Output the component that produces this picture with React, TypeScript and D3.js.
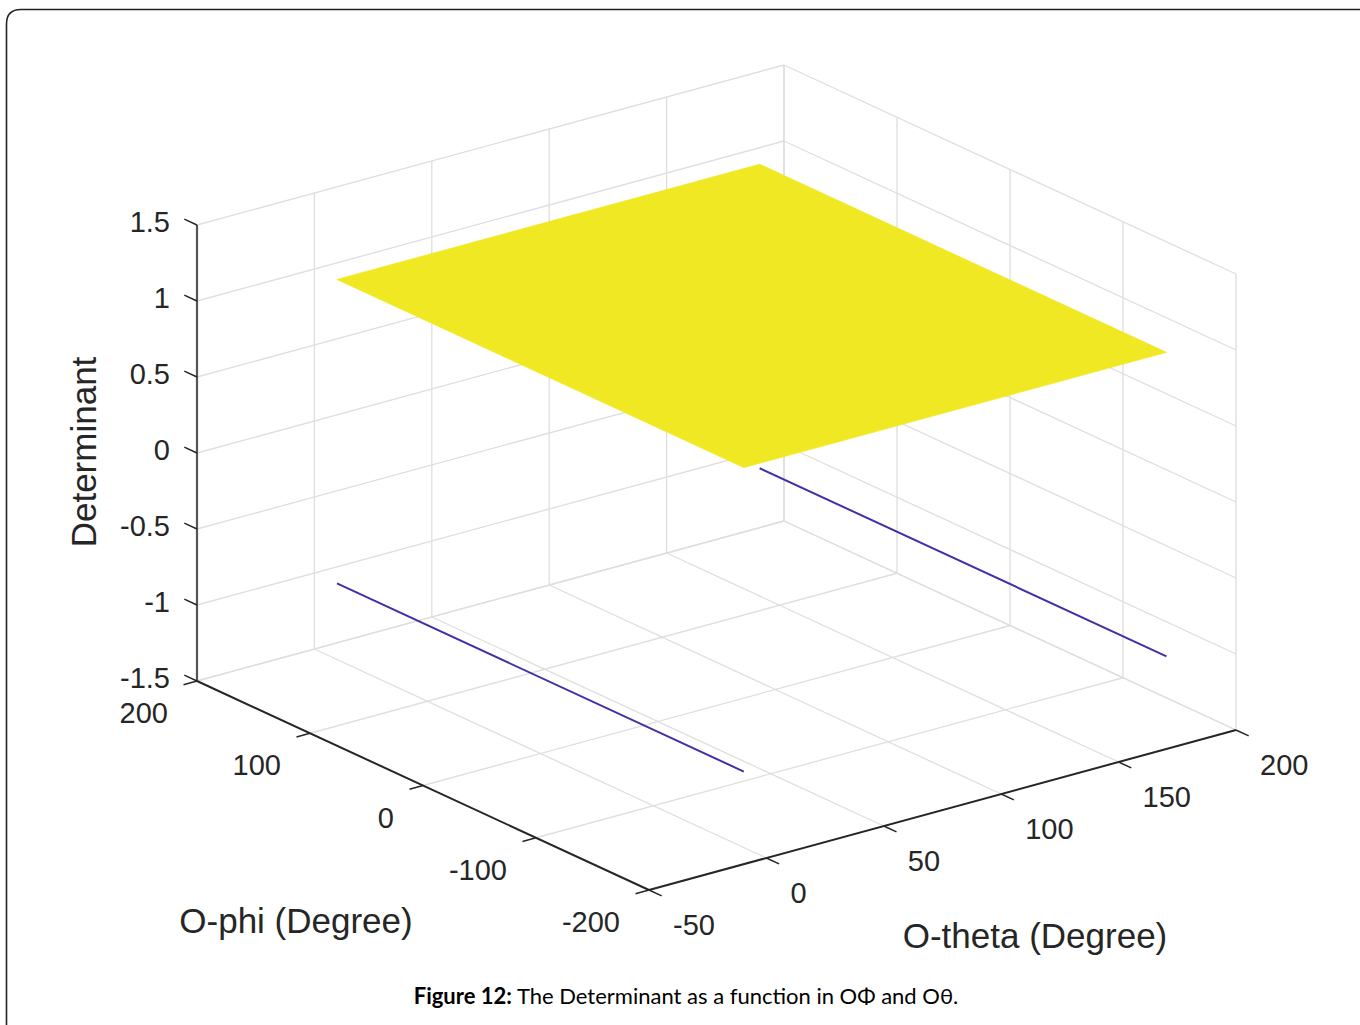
import React from "react";
import * as d3 from "d3";

// Axis ticks
const thetaTicks = [-50, 0, 50, 100, 150, 200];
const phiTicks = [-200, -100, 0, 100, 200];
const zTicks = [-1.5, -1, -0.5, 0, 0.5, 1, 1.5];

// Surface: determinant over the (theta, phi) grid
const surfaceTheta = [0, 180];
const surfacePhi = [-180, 180];
const surfaceDet = [
  [1, 1],
  [1, 1],
];

// Edge lines where the determinant drops to -1
const edgeTheta = [0, 180];
const edgePhi = [-180, 180];
const edgeDet = -1;

const W = 1360;
const H = 1025;

// Normalised axis scales (0..1 along each box edge)
const tS = d3.scaleLinear().domain([-50, 200]).range([0, 1]);
const pS = d3.scaleLinear().domain([-200, 200]).range([0, 1]);
const zS = d3.scaleLinear().domain([-1.5, 1.5]).range([0, 1]);

// Screen-space box geometry (view az/el of the 3-D axes)
const origin = [649, 890]; // theta=-50, phi=-200, z=-1.5
const vT = [587, -160];
const vP = [-452, -209];
const vZ = [0, -456];

function proj(theta: number, phi: number, z: number): [number, number] {
  const a = tS(theta), b = pS(phi), c = zS(z);
  return [
    origin[0] + a * vT[0] + b * vP[0] + c * vZ[0],
    origin[1] + a * vT[1] + b * vP[1] + c * vZ[1],
  ];
}

const line = d3.line<[number, number]>();
const TEXT = "#262626";
const GRID = "#dedede";
const FONT = "'Liberation Sans', Arial, Helvetica, sans-serif";

function unit(v: number[]) {
  const l = Math.hypot(v[0], v[1]);
  return [v[0] / l, v[1] / l];
}

export default function App() {
  const [tMin, tMax] = tS.domain();
  const [pMin, pMax] = pS.domain();
  const [zMin, zMax] = zS.domain();

  const grid: [number, number][][] = [];
  // floor
  thetaTicks.forEach((t) => grid.push([proj(t, pMin, zMin), proj(t, pMax, zMin)]));
  phiTicks.forEach((p) => grid.push([proj(tMin, p, zMin), proj(tMax, p, zMin)]));
  // back wall phi = max
  thetaTicks.forEach((t) => grid.push([proj(t, pMax, zMin), proj(t, pMax, zMax)]));
  zTicks.forEach((z) => grid.push([proj(tMin, pMax, z), proj(tMax, pMax, z)]));
  // back wall theta = max
  phiTicks.forEach((p) => grid.push([proj(tMax, p, zMin), proj(tMax, p, zMax)]));
  zTicks.forEach((z) => grid.push([proj(tMax, pMin, z), proj(tMax, pMax, z)]));

  const cells: [number, number][][] = [];
  for (let i = 0; i < surfaceTheta.length - 1; i++) {
    for (let j = 0; j < surfacePhi.length - 1; j++) {
      cells.push([
        proj(surfaceTheta[i], surfacePhi[j], surfaceDet[i][j]),
        proj(surfaceTheta[i + 1], surfacePhi[j], surfaceDet[i + 1][j]),
        proj(surfaceTheta[i + 1], surfacePhi[j + 1], surfaceDet[i + 1][j + 1]),
        proj(surfaceTheta[i], surfacePhi[j + 1], surfaceDet[i][j + 1]),
      ]);
    }
  }

  const tickLen = 14;
  const dirPhiUp = unit(vP);
  const dirThetaDown = unit([-vT[0], -vT[1]]);
  const dirPhiDown = unit([-vP[0], -vP[1]]);

  return (
    <svg
      width={W}
      height={H}
      style={{ position: "absolute", left: 0, top: 0, background: "#fff" }}
    >
      <rect width={W} height={H} fill="#fff" />
      {/* page frame */}
      <path
        d={`M6.5,${H + 5} L6.5,24 Q6.5,9.5 21,9.5 L${W + 5},9.5`}
        fill="none"
        stroke="#222"
        strokeWidth={1.6}
      />

      {/* grid */}
      {grid.map((g, i) => (
        <path key={"g" + i} d={line(g) || ""} stroke={GRID} strokeWidth={1.3} fill="none" />
      ))}

      {/* edge lines at determinant = -1 */}
      {edgeTheta.map((t, i) => (
        <path
          key={"e" + i}
          d={line(edgePhi.map((p) => proj(t, p, edgeDet))) || ""}
          stroke="#3f31a6"
          strokeWidth={2}
          fill="none"
        />
      ))}

      {/* surface */}
      {cells.map((c, i) => (
        <path key={"s" + i} d={(line(c) || "") + "Z"} fill="#f1e824" stroke="#f1e824" strokeWidth={0.8} />
      ))}

      {/* z axis */}
      <path d={line([proj(tMin, pMax, zMin), proj(tMin, pMax, zMax)]) || ""} stroke="#555" strokeWidth={2.2} fill="none" />
      {zTicks.map((z) => {
        const [x, y] = proj(tMin, pMax, z);
        return (
          <g key={"zt" + z}>
            <line x1={x} y1={y} x2={x + dirPhiUp[0] * tickLen} y2={y + dirPhiUp[1] * tickLen} stroke={TEXT} strokeWidth={1.5} />
            <text x={x - 27} y={y - 3} textAnchor="end" dominantBaseline="central" fontFamily={FONT} fontSize={29} fill={TEXT}>
              {String(z)}
            </text>
          </g>
        );
      })}

      {/* phi axis */}
      <path d={line([proj(tMin, pMin, zMin), proj(tMin, pMax, zMin)]) || ""} stroke={TEXT} strokeWidth={2} fill="none" />
      {phiTicks.map((p) => {
        const [x, y] = proj(tMin, p, zMin);
        return (
          <g key={"pt" + p}>
            <line x1={x} y1={y} x2={x + dirThetaDown[0] * tickLen} y2={y + dirThetaDown[1] * tickLen} stroke={TEXT} strokeWidth={1.5} />
            <text x={x - 29} y={y + 32} textAnchor="end" dominantBaseline="central" fontFamily={FONT} fontSize={29} fill={TEXT}>
              {String(p)}
            </text>
          </g>
        );
      })}

      {/* theta axis */}
      <path d={line([proj(tMin, pMin, zMin), proj(tMax, pMin, zMin)]) || ""} stroke={TEXT} strokeWidth={2} fill="none" />
      {thetaTicks.map((t) => {
        const [x, y] = proj(t, pMin, zMin);
        return (
          <g key={"tt" + t}>
            <line x1={x} y1={y} x2={x + dirPhiDown[0] * tickLen} y2={y + dirPhiDown[1] * tickLen} stroke={TEXT} strokeWidth={1.5} />
            <text x={x + 24} y={y + 35} textAnchor="start" dominantBaseline="central" fontFamily={FONT} fontSize={29} fill={TEXT}>
              {String(t)}
            </text>
          </g>
        );
      })}

      {/* axis labels */}
      <text transform="translate(83,452) rotate(-90)" textAnchor="middle" dominantBaseline="central" fontFamily={FONT} fontSize={35} fill={TEXT}>
        Determinant
      </text>
      <text x={296} y={920} textAnchor="middle" dominantBaseline="central" fontFamily={FONT} fontSize={35} fill={TEXT}>
        O-phi (Degree)
      </text>
      <text x={1035} y={935} textAnchor="middle" dominantBaseline="central" fontFamily={FONT} fontSize={35} fill={TEXT}>
        O-theta (Degree)
      </text>

      {/* caption */}
      <text x={686} y={995} textAnchor="middle" dominantBaseline="central" fontFamily="Lato, 'Open Sans', sans-serif" fontSize={22} fill="#000">
        <tspan fontWeight="bold">Figure 12:</tspan>
        <tspan> The Determinant as a function in OΦ and Oθ.</tspan>
      </text>
    </svg>
  );
}
